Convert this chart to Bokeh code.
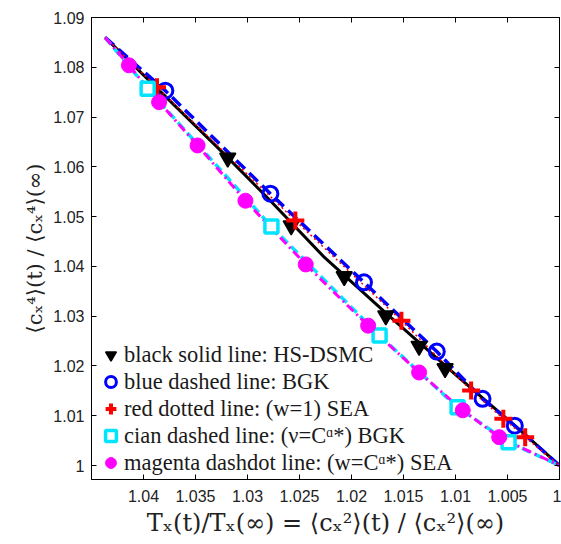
from bokeh.plotting import figure
from bokeh.models import Range1d, LinearAxis, FixedTicker, CustomJSTickFormatter, Legend, LegendItem
from bokeh.embed import file_html
from bokeh.resources import INLINE

# ---------------- data ----------------
x_ticks = [1.04, 1.035, 1.03, 1.025, 1.02, 1.015, 1.01, 1.005, 1.0]
y_ticks = [1.0, 1.01, 1.02, 1.03, 1.04, 1.05, 1.06, 1.07, 1.08, 1.09]

# black solid line: HS-DSMC
dsmc_line_x = [1.0437, 1.0323, 1.0278, 1.0226, 1.0162, 1.0097, 1.0034, 1.0]
dsmc_line_y = [1.0860, 1.0627, 1.0532, 1.0418, 1.0297, 1.0177, 1.0064, 1.0]
dsmc_mark_x = [1.0319, 1.0258, 1.0207, 1.0167, 1.0135, 1.0110]
dsmc_mark_y = [1.0618, 1.0482, 1.0380, 1.0301, 1.0240, 1.0195]

# blue dashed line: BGK
bgk_line_x = [1.0437, 1.0379, 1.0278, 1.0188, 1.0118, 1.0074, 1.0043, 1.0]
bgk_line_y = [1.0860, 1.0753, 1.0546, 1.0368, 1.0229, 1.0134, 1.0080, 1.0]
bgk_mark_x = [1.0379, 1.0278, 1.0188, 1.0118, 1.0074, 1.0043]
bgk_mark_y = [1.0753, 1.0546, 1.0368, 1.0229, 1.0134, 1.0080]

# red dotted line: (w=1) SEA
sea_line_x = [1.0437, 1.0387, 1.0254, 1.0152, 1.0085, 1.0054, 1.0033, 1.0]
sea_line_y = [1.0860, 1.0760, 1.0492, 1.0291, 1.0151, 1.0094, 1.0057, 1.0]
sea_mark_x = [1.0387, 1.0254, 1.0152, 1.0085, 1.0054, 1.0033]
sea_mark_y = [1.0760, 1.0492, 1.0291, 1.0151, 1.0094, 1.0057]

# cian dashed line: (nu=C^alpha*) BGK
cbgk_line_x = [1.0437, 1.0396, 1.0277, 1.0173, 1.0098, 1.0049, 1.0]
cbgk_line_y = [1.0860, 1.0757, 1.0480, 1.0261, 1.0117, 1.0047, 1.0]
cbgk_mark_x = [1.0396, 1.0277, 1.0173, 1.0098, 1.0049]
cbgk_mark_y = [1.0757, 1.0480, 1.0261, 1.0117, 1.0047]

# magenta dashdot line: (w=C^alpha*) SEA
csea_line_x = [1.0437, 1.0414, 1.0385, 1.0348, 1.0302, 1.0244, 1.0184, 1.0135, 1.0093, 1.0058, 1.0]
csea_line_y = [1.0860, 1.0804, 1.0730, 1.0643, 1.0532, 1.0404, 1.0281, 1.0187, 1.0111, 1.0057, 1.0]
csea_mark_x = [1.0414, 1.0385, 1.0348, 1.0302, 1.0244, 1.0184, 1.0135, 1.0093, 1.0058]
csea_mark_y = [1.0804, 1.0730, 1.0643, 1.0532, 1.0404, 1.0281, 1.0187, 1.0111, 1.0057]

labels = [
    "black solid line: HS-DSMC",
    "blue dashed line: BGK",
    "red dotted line: (w=1) SEA",
    "cian dashed line: (\u03bd=C\u1d45*) BGK",
    "magenta dashdot line: (w=C\u1d45*) SEA",
]

# ---------------- figure ----------------
p = figure(width=561, height=544, output_backend="svg", toolbar_location=None,
           x_range=Range1d(1.045, 1.0), y_range=Range1d(0.9972, 1.09),
           min_border_left=91, min_border_right=2, min_border_top=17, min_border_bottom=65)
p.grid.visible = False
p.outline_line_color = "black"
p.outline_line_width = 1
p.background_fill_color = "white"
p.border_fill_color = "white"

fmt_x = CustomJSTickFormatter(code="return tick.toFixed(3).replace(/0+$/,'').replace(/\\.$/,'');")
fmt_y = CustomJSTickFormatter(code="return tick.toFixed(2).replace(/0+$/,'').replace(/\\.$/,'');")

for ax, ticks, fmt in ((p.xaxis[0], x_ticks, fmt_x), (p.yaxis[0], y_ticks, fmt_y)):
    ax.ticker = FixedTicker(ticks=ticks)
    ax.formatter = fmt
    ax.major_tick_in = 5
    ax.major_tick_out = 0
    ax.minor_tick_line_color = None
    ax.major_label_text_font = "Liberation Sans"
    ax.major_label_text_font_size = "16px"
    ax.major_label_text_color = "#222222"
    ax.axis_label_text_font = "DejaVu Serif"
    ax.axis_label_text_font_style = "normal"
    ax.axis_label_text_color = "#222222"

p.xaxis[0].axis_label_text_font_size = "24px"
p.yaxis[0].axis_label_text_font_size = "21px"
p.xaxis[0].major_label_standoff = 10
p.xaxis[0].axis_label_standoff = 4
p.yaxis[0].major_label_standoff = 7
p.yaxis[0].axis_label_standoff = 3
p.xaxis[0].axis_label = "T\u2093(t)/T\u2093(\u221e) = \u27e8c\u2093\u00b2\u27e9(t) / \u27e8c\u2093\u00b2\u27e9(\u221e)"
p.yaxis[0].axis_label = "\u27e8c\u2093\u2074\u27e9(t) / \u27e8c\u2093\u2074\u27e9(\u221e)"

top = LinearAxis(ticker=FixedTicker(ticks=x_ticks), major_tick_in=5, major_tick_out=0,
                 minor_tick_line_color=None, major_label_text_color=None,
                 major_label_text_font_size="0px", major_label_standoff=0)
right = LinearAxis(ticker=FixedTicker(ticks=y_ticks), major_tick_in=5, major_tick_out=0,
                   minor_tick_line_color=None, major_label_text_color=None,
                   major_label_text_font_size="0px", major_label_standoff=0)
p.add_layout(top, "above")
p.add_layout(right, "right")

# lines
p.line(dsmc_line_x, dsmc_line_y, color="black", line_width=3)
p.line(bgk_line_x, bgk_line_y, color="#0000ff", line_width=3.5, line_dash="12 6")
p.line(sea_line_x, sea_line_y, color="#ff0000", line_width=1.5, line_dash="2 3")
p.line(cbgk_line_x, cbgk_line_y, color="#00e5ff", line_width=3.5, line_dash="9 5")
p.line(csea_line_x, csea_line_y, color="#ff00ff", line_width=3, line_dash="9 4 2 4")

# markers
r1 = p.scatter(dsmc_mark_x, dsmc_mark_y, marker="inverted_triangle", size=16,
               fill_color="black", line_color="black", line_width=1.5)
r2 = p.scatter(bgk_mark_x, bgk_mark_y, marker="circle", size=15,
               fill_color=None, line_color="#0000ff", line_width=3)
r3 = p.scatter(sea_mark_x, sea_mark_y, marker="cross", size=18,
               line_color="#ff0000", line_width=4)
r4 = p.scatter(cbgk_mark_x, cbgk_mark_y, marker="square", size=13,
               fill_color="white", line_color="#00e5ff", line_width=3.5)
r5 = p.scatter(csea_mark_x, csea_mark_y, marker="circle", size=15,
               fill_color="#ff00ff", line_color="#ff00ff", line_width=1)

legend = Legend(items=[LegendItem(label=l, renderers=[r]) for l, r in zip(labels, [r1, r2, r3, r4, r5])],
                location=(6, 3), margin=0, padding=0, spacing=0,
                glyph_width=27, glyph_height=27, label_standoff=0, label_height=22,
                label_text_font="Liberation Serif", label_text_font_size="22.5px",
                label_text_color="#1a1a1a",
                background_fill_alpha=0, border_line_color=None)
p.add_layout(legend, "center")

open("out.html", "w").write(file_html(p, INLINE))
